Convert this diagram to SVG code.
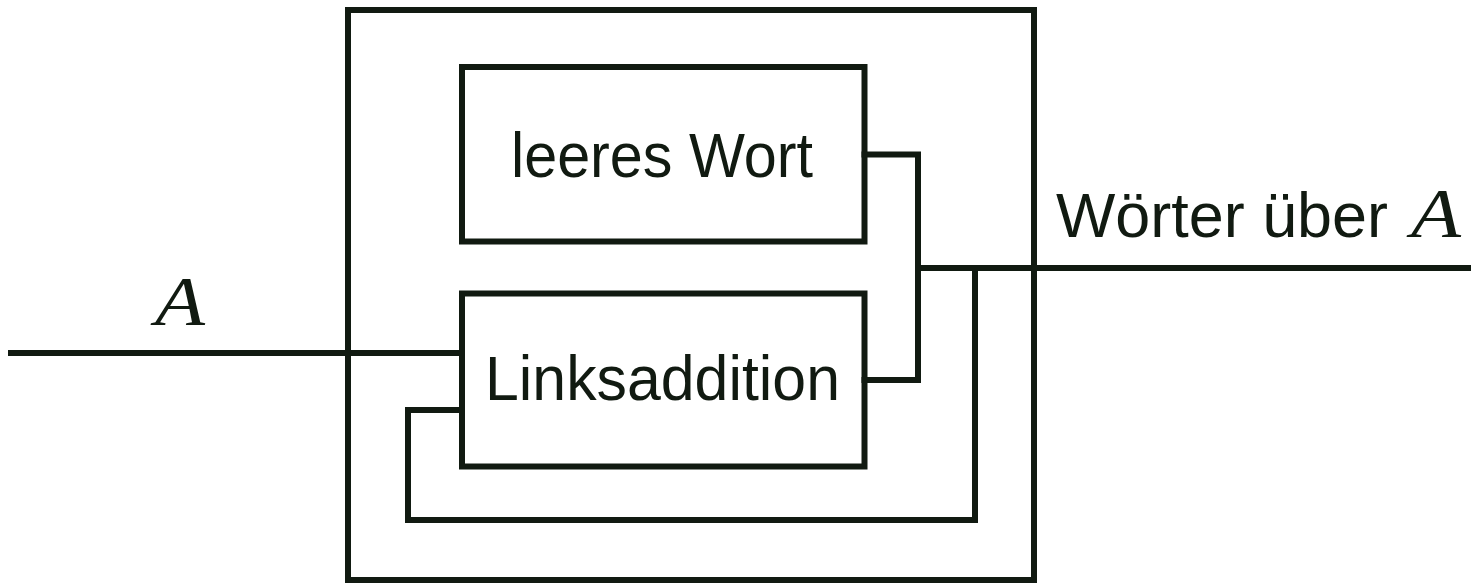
<svg xmlns="http://www.w3.org/2000/svg" width="1471" height="584" viewBox="0 0 1471 584">
  <style>
    .frame { fill: none; stroke: #111a11; stroke-width: 6; }
    .wire { fill: none; stroke: #111a11; stroke-width: 6; stroke-linejoin: miter; stroke-linecap: square; }
    .lbl { font-family: "Liberation Sans", "DejaVu Sans", sans-serif; font-size: 63px; fill: #111a11; }
    .var { font-family: "Liberation Serif", "DejaVu Serif", serif; font-style: italic; font-size: 70px; fill: #111a11; }
  </style>
  <rect width="1471" height="584" fill="#ffffff"/>

  <!-- enclosing system -->
  <g id="system">
    <rect class="frame" x="348" y="10" width="686" height="570"/>
  </g>

  <!-- empty word source -->
  <g id="leeres-wort">
    <rect class="frame" x="462" y="67" width="402.5" height="174.5"/>
    <text class="lbl" x="511" y="177" textLength="302" lengthAdjust="spacingAndGlyphs">leeres Wort</text>
  </g>

  <!-- left addition -->
  <g id="linksaddition">
    <rect class="frame" x="462" y="293.5" width="402.5" height="173"/>
    <text class="lbl" x="485" y="400" textLength="355" lengthAdjust="spacingAndGlyphs">Linksaddition</text>
  </g>

  <!-- connectors -->
  <g id="connectors">
    <polyline class="wire" points="864.5,154.5 918,154.5 918,380 864.5,380"/>
    <line class="wire" x1="918" y1="268" x2="1471" y2="268"/>
    <polyline class="wire" points="975,268 975,520 408,520 408,410 462,410"/>
    <line class="wire" x1="11" y1="353" x2="462" y2="353"/>
  </g>

  <!-- labels -->
  <g id="labels">
    <text class="var" x="155" y="325" textLength="50" lengthAdjust="spacingAndGlyphs">A</text>
    <text class="lbl" x="1056" y="237" textLength="332" lengthAdjust="spacingAndGlyphs">Wörter über</text>
    <text class="var" x="1411" y="237" textLength="50" lengthAdjust="spacingAndGlyphs">A</text>
  </g>
</svg>
